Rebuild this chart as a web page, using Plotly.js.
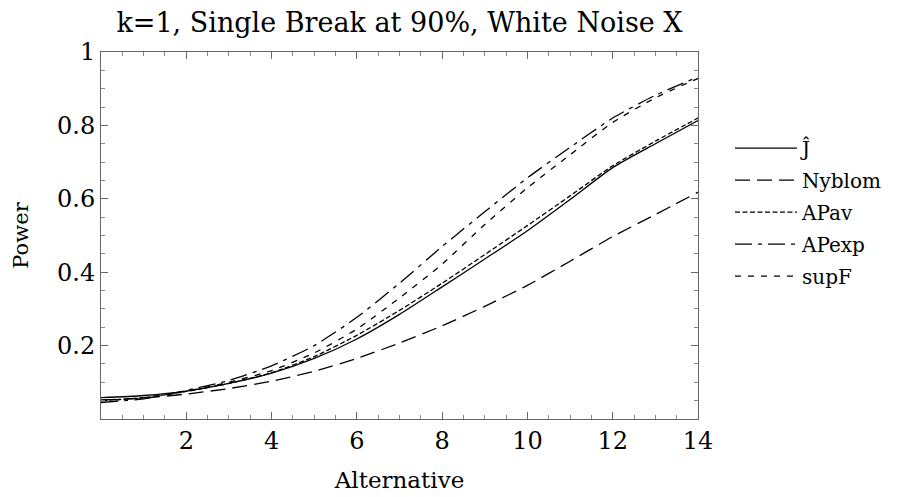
<!DOCTYPE html>
<html>
<head>
<meta charset="utf-8">
<script src="https://cdn.plot.ly/plotly-3.0.1.min.js"></script>
<style>html,body{margin:0;padding:0;background:#fff;}#chart{width:901px;height:497px;}</style>
</head>
<body>
<div id="chart"></div>
<script>
const alternative = [0,1,2,3,4,5,6,7,8,9,10,11,12,13,14];
const powerJhat   = [0.058,0.064,0.076,0.097,0.125,0.165,0.218,0.285,0.360,0.436,0.513,0.598,0.685,0.750,0.813];
const powerNyblom = [0.052,0.057,0.068,0.083,0.103,0.130,0.165,0.207,0.254,0.307,0.364,0.430,0.497,0.557,0.618];
const powerAPav   = [0.050,0.058,0.075,0.097,0.126,0.170,0.228,0.296,0.370,0.448,0.527,0.608,0.690,0.757,0.820];
const powerAPexp  = [0.045,0.055,0.078,0.105,0.145,0.200,0.277,0.370,0.470,0.565,0.657,0.740,0.820,0.882,0.932];
const powerSupF   = [0.050,0.058,0.076,0.100,0.132,0.180,0.245,0.330,0.422,0.530,0.630,0.720,0.808,0.875,0.928];
const seriesNames = ["Ĵ","Nyblom","APav","APexp","supF"];
const xTickVals = [2,4,6,8,10,12,14];
const xTickText = ["2","4","6","8","10","12","14"];
const yTickVals = [0.2,0.4,0.6,0.8,1];
const yTickText = ["0.2","0.4","0.6","0.8","1"];

const serif = "DejaVu Serif";
const dashes = ["solid","15px,7px","5px,2.5px","17px,6px,4px,6px","6px,7px"];
const ys = [powerJhat, powerNyblom, powerAPav, powerAPexp, powerSupF];

const traces = ys.map((y,i)=>({
  x: alternative, y: y, name: seriesNames[i], type: "scatter", mode: "lines",
  legendgroup: "g"+i,
  line: {color:"#000", width:1.3, dash: dashes[i], shape:"spline", smoothing:0.6}
}));

const axisCommon = {
  showgrid:false, zeroline:false, showline:true, linecolor:"#666", linewidth:1,
  mirror:"ticks", ticks:"inside", ticklen:7, tickcolor:"#666", tickwidth:1,
  tickfont:{family:serif, size:24, color:"#000"}
};

const layout = {
  width:901, height:497,
  font:{family:serif},
  margin:{l:101, r:203, t:52, b:78, pad:0},
  paper_bgcolor:"#fff", plot_bgcolor:"#fff",
  showlegend:true,
  title:{text:"k=1, Single Break at 90%, White Noise X", font:{family:serif, size:27, color:"#000"},
         x:0.5, xref:"paper", xanchor:"center", y:0.955, yref:"container", yanchor:"middle"},
  xaxis: Object.assign({}, axisCommon, {
    range:[0,14], tickmode:"array", tickvals:xTickVals, ticktext:xTickText,
    minor:{ticks:"inside", ticklen:4, tickcolor:"#888", tickmode:"linear", tick0:0, dtick:0.5, showgrid:false},
    title:{text:"Alternative", font:{family:serif, size:23, color:"#000"}, standoff:18}
  }),
  yaxis: Object.assign({}, axisCommon, {
    range:[0,1], tickmode:"array", tickvals:yTickVals, ticktext:yTickText,
    minor:{ticks:"inside", ticklen:4, tickcolor:"#888", tickmode:"linear", tick0:0, dtick:0.05, showgrid:false},
    title:{text:"Power", font:{family:serif, size:21, color:"#000"}, standoff:22}
  }),
  legend:{x:1.0536, xanchor:"left", y:0.791, yanchor:"top", bgcolor:"rgba(0,0,0,0)",
          font:{family:serif, size:20, color:"#000"}, tracegroupgap:3, itemwidth:62}
};

Plotly.newPlot("chart", traces, layout, {displayModeBar:false, staticPlot:true});
</script>
</body>
</html>
